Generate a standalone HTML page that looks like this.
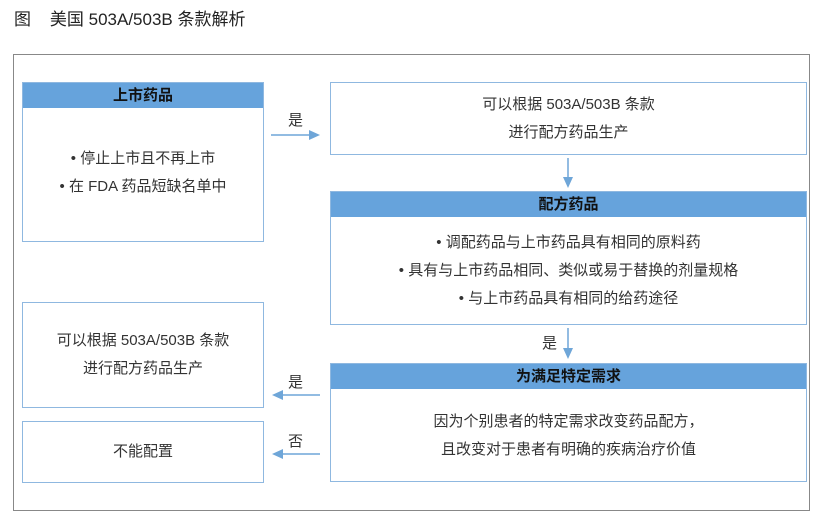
<!DOCTYPE html>
<html><head><meta charset="utf-8"><style>
body{margin:0;width:829px;height:520px;background:#fff;font-family:"Liberation Sans","Noto Sans CJK SC",sans-serif;color:#222;position:relative;overflow:hidden}
.a{position:absolute;box-sizing:border-box}
.box{border:1.5px solid #8fb8e0;background:#fff}
.hd{position:absolute;left:0;right:0;top:0;height:25px;background:#66a3dc;font-weight:bold;font-size:15px;text-align:center;line-height:25px;color:#111}
.t{position:absolute;left:0;right:0;text-align:center;font-size:15px;line-height:28px;color:#333}
.lbl{position:absolute;font-size:15px;color:#333}
</style></head><body>
<div class="a" style="left:14px;top:5px;font-size:17px;color:#222">图&nbsp;&nbsp;&nbsp;&nbsp;美国 503A/503B 条款解析</div>
<div class="a" style="left:13px;top:54px;width:797px;height:457px;border:1.5px solid #888"></div>

<div class="a box" style="left:22px;top:82px;width:242px;height:160px"><div class="hd">上市药品</div><div class="t" style="top:62px">• 停止上市且不再上市<br>• 在 FDA 药品短缺名单中</div></div>

<div class="a box" style="left:330px;top:82px;width:477px;height:73px"><div class="t" style="top:8px">可以根据 503A/503B 条款<br>进行配方药品生产</div></div>

<div class="a box" style="left:330px;top:191px;width:477px;height:134px"><div class="hd">配方药品</div><div class="t" style="top:37px">• 调配药品与上市药品具有相同的原料药<br>• 具有与上市药品相同、类似或易于替换的剂量规格<br>• 与上市药品具有相同的给药途径</div></div>

<div class="a box" style="left:330px;top:363px;width:477px;height:119px"><div class="hd">为满足特定需求</div><div class="t" style="top:44px">因为个别患者的特定需求改变药品配方，<br>且改变对于患者有明确的疾病治疗价值</div></div>

<div class="a box" style="left:22px;top:302px;width:242px;height:106px"><div class="t" style="top:24px">可以根据 503A/503B 条款<br>进行配方药品生产</div></div>
<div class="a box" style="left:22px;top:421px;width:242px;height:62px"><div class="t" style="top:16px">不能配置</div></div>

<svg class="a" style="left:0;top:0" width="829" height="520">
<g stroke="#6fa6d8" stroke-width="1.5" fill="#6fa6d8">
<line x1="271" y1="135" x2="312" y2="135"/><polygon points="320,135 309,130 309,140" stroke="none"/>
<line x1="568" y1="158" x2="568" y2="180"/><polygon points="568,188 563,177 573,177" stroke="none"/>
<line x1="568" y1="328" x2="568" y2="351"/><polygon points="568,359 563,348 573,348" stroke="none"/>
<line x1="320" y1="395" x2="280" y2="395"/><polygon points="272,395 283,390 283,400" stroke="none"/>
<line x1="320" y1="454" x2="280" y2="454"/><polygon points="272,454 283,449 283,459" stroke="none"/>
</g></svg>
<div class="lbl" style="left:288px;top:109px">是</div>
<div class="lbl" style="left:542px;top:332px">是</div>
<div class="lbl" style="left:288px;top:371px">是</div>
<div class="lbl" style="left:288px;top:430px">否</div>
</body></html>
